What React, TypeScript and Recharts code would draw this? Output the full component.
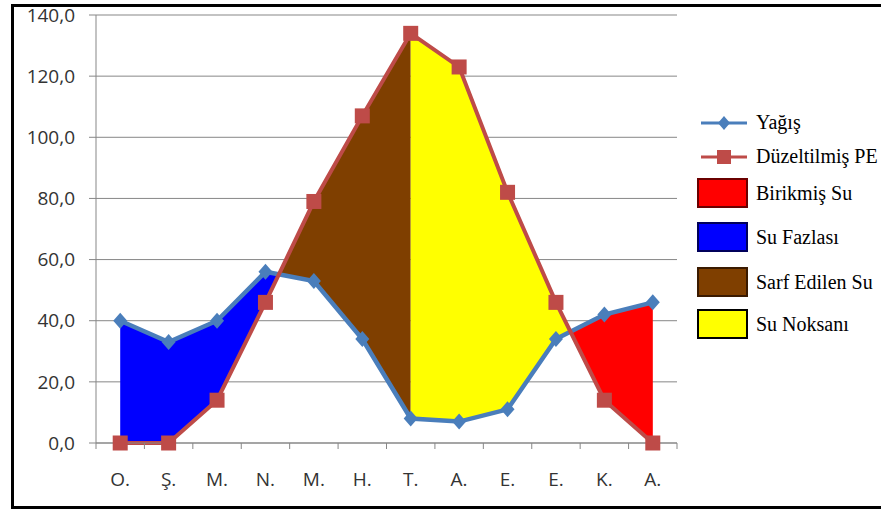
import React from "react";
import { ComposedChart, Area, Line, XAxis, YAxis, CartesianGrid } from "recharts";

const months = ["O.", "Ş.", "M.", "N.", "M.", "H.", "T.", "A.", "E.", "E.", "K.", "A."];
const yagis = [40, 33, 40, 56, 53, 34, 8, 7, 11, 34, 42, 46];
const duzeltilmisPE = [0, 0, 14, 46, 79, 107, 134, 123, 82, 46, 14, 0];
const yTicks = [0, 20, 40, 60, 80, 100, 120, 140];
// month where the stored soil water is used up (Sarf Edilen Su -> Su Noksanı)
const storageEndIndex = 6;

const zoneColors = {
  birikmis: "#FF0000",
  fazla: "#0000FF",
  sarf: "#7F3F00",
  noksan: "#FFFF00",
};

type Range = [number, number] | null;
interface Row {
  x: number;
  yagis: number | null;
  pe: number | null;
  fazla: Range;
  sarf: Range;
  noksan: Range;
  birikmis: Range;
}

function makeRow(x: number, p: number, e: number, cross: boolean): Row {
  const d = cross ? 0 : p - e;
  const r: Range = [Math.min(p, e), Math.max(p, e)];
  return {
    x,
    yagis: cross ? null : p,
    pe: cross ? null : e,
    fazla: d >= 0 && x < storageEndIndex ? r : null,
    birikmis: d >= 0 && x > storageEndIndex ? r : null,
    sarf: d <= 0 && x <= storageEndIndex ? r : null,
    noksan: d <= 0 && x >= storageEndIndex ? r : null,
  };
}

// monthly rows plus the points where the two curves cross
const rows: Row[] = [];
for (let i = 0; i < months.length; i++) {
  rows.push(makeRow(i, yagis[i], duzeltilmisPE[i], false));
  if (i < months.length - 1) {
    const d0 = yagis[i] - duzeltilmisPE[i];
    const d1 = yagis[i + 1] - duzeltilmisPE[i + 1];
    if (d0 * d1 < 0) {
      const t = d0 / (d0 - d1);
      const v = yagis[i] + t * (yagis[i + 1] - yagis[i]);
      rows.push(makeRow(i + t, v, v, true));
    }
  }
}

const xTicks: number[] = [];
for (let i = 0; i < months.length; i++) xTicks.push(i - 0.5, i);
xTicks.push(months.length - 0.5);

const axisFont = "'Open Sans', 'Liberation Sans', sans-serif";
const gridColor = "#878787";

const MonthTick = (props: any) => {
  const { x, y, payload } = props;
  const v = payload.value as number;
  if (Number.isInteger(v)) {
    return (
      <text x={x} y={y + 37} textAnchor="middle" fontSize={19} fontFamily={axisFont} fill="#333">
        {months[v]}
      </text>
    );
  }
  return <line x1={x} x2={x} y1={y - 6} y2={y} stroke={gridColor} strokeWidth={1} />;
};

const Diamond = (props: any) => {
  const { cx, cy, index } = props;
  if (cx == null || cy == null) return <g key={index} />;
  return (
    <path
      key={index}
      d={`M${cx},${cy - 8} L${cx + 7},${cy} L${cx},${cy + 8} L${cx - 7},${cy} Z`}
      fill="#4A7EBB"
    />
  );
};

const Square = (props: any) => {
  const { cx, cy, index } = props;
  if (cx == null || cy == null) return <g key={index} />;
  const s = 7.5;
  return <rect key={index} x={cx - s} y={cy - s} width={2 * s} height={2 * s} fill="#BE4B48" />;
};

const legendBoxes = [
  { label: "Birikmiş Su", fill: zoneColors.birikmis, border: "#6a0000", top: 178 },
  { label: "Su Fazlası", fill: zoneColors.fazla, border: "#00005a", top: 222 },
  { label: "Sarf Edilen Su", fill: zoneColors.sarf, border: "#3a1a00", top: 267 },
  { label: "Su Noksanı", fill: zoneColors.noksan, border: "#000000", top: 309 },
];

const legendText: React.CSSProperties = {
  position: "absolute",
  left: 756,
  fontFamily: "'Liberation Serif', 'DejaVu Serif', serif",
  fontSize: 20,
  color: "#000",
  lineHeight: "20px",
  whiteSpace: "nowrap",
};

export default function App() {
  return (
    <div style={{ position: "absolute", left: 0, top: 0, width: 881, height: 510, background: "#fff", overflow: "hidden" }}>
      <div
        style={{
          position: "absolute",
          left: 11,
          top: 4,
          width: 880,
          height: 505,
          border: "3px solid #000",
          boxSizing: "border-box",
        }}
      />
      <div style={{ position: "absolute", left: 0, top: 0 }}>
        <ComposedChart width={881} height={510} data={rows} margin={{ top: 15, right: 204, bottom: 0, left: 0 }}>
          <CartesianGrid vertical={false} stroke={gridColor} strokeWidth={1} />
          <XAxis
            type="number"
            dataKey="x"
            domain={[-0.5, months.length - 0.5]}
            ticks={xTicks}
            interval={0}
            height={67}
            tickLine={false}
            tickSize={6}
            tickMargin={0}
            axisLine={{ stroke: gridColor }}
            tick={<MonthTick />}
          />
          <YAxis
            domain={[0, 140]}
            ticks={yTicks}
            interval={0}
            width={96}
            tickSize={7}
            tickMargin={14}
            tickLine={{ stroke: gridColor }}
            axisLine={{ stroke: gridColor }}
            tick={{ fontSize: 19, fontFamily: axisFont, fill: "#333" }}
            tickFormatter={(v: number) => v.toFixed(1).replace(".", ",")}
          />
          <Area dataKey={(r: Row) => r.fazla} name="Su Fazlası" type="linear" fill={zoneColors.fazla} fillOpacity={1} stroke="none" isAnimationActive={false} />
          <Area dataKey={(r: Row) => r.sarf} name="Sarf Edilen Su" type="linear" fill={zoneColors.sarf} fillOpacity={1} stroke="none" isAnimationActive={false} />
          <Area dataKey={(r: Row) => r.noksan} name="Su Noksanı" type="linear" fill={zoneColors.noksan} fillOpacity={1} stroke="none" isAnimationActive={false} />
          <Area dataKey={(r: Row) => r.birikmis} name="Birikmiş Su" type="linear" fill={zoneColors.birikmis} fillOpacity={1} stroke="none" isAnimationActive={false} />
          <Line dataKey="yagis" name="Yağış" type="linear" stroke="#4A7EBB" strokeWidth={4.5} connectNulls dot={<Diamond />} activeDot={false} isAnimationActive={false} />
          <Line dataKey="pe" name="Düzeltilmiş PE" type="linear" stroke="#BE4B48" strokeWidth={4} connectNulls dot={<Square />} activeDot={false} isAnimationActive={false} />
        </ComposedChart>
      </div>
      {/* legend */}
      <svg style={{ position: "absolute", left: 697, top: 110 }} width={56} height={60}>
        <line x1={4} x2={50} y1={13} y2={13} stroke="#4A7EBB" strokeWidth={3} />
        <path d="M27,6 L33,13 L27,20 L21,13 Z" fill="#4A7EBB" />
        <line x1={4} x2={50} y1={47} y2={47} stroke="#BE4B48" strokeWidth={3} />
        <rect x={20} y={40} width={14} height={14} fill="#BE4B48" />
      </svg>
      <div style={{ ...legendText, top: 112 }}>Yağış</div>
      <div style={{ ...legendText, top: 146 }}>Düzeltilmiş PE</div>
      {legendBoxes.map((b) => (
        <React.Fragment key={b.label}>
          <div
            style={{
              position: "absolute",
              left: 697,
              top: b.top,
              width: 51,
              height: 30,
              background: b.fill,
              border: `2px solid ${b.border}`,
              boxSizing: "border-box",
            }}
          />
          <div style={{ ...legendText, top: b.top + 5 }}>{b.label}</div>
        </React.Fragment>
      ))}
    </div>
  );
}
